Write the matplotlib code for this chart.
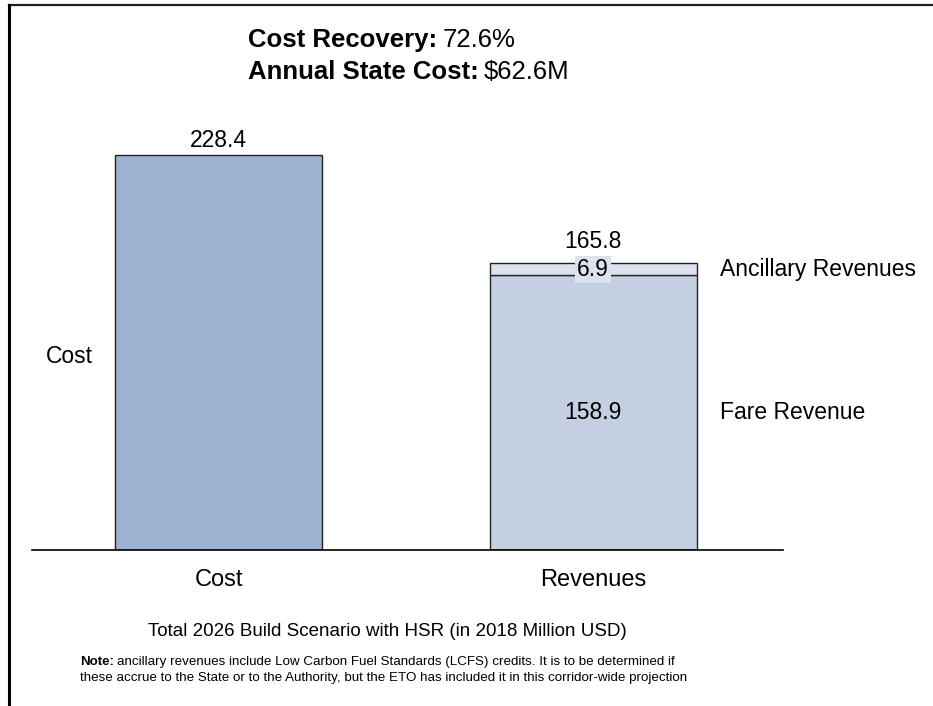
import matplotlib.pyplot as plt
from matplotlib.lines import Line2D

plt.rcParams['font.family'] = ['Liberation Sans', 'DejaVu Sans']

categories = ['Cost', 'Revenues']
cost_total = 228.4
fare_revenue = 158.9
ancillary_revenue = 6.9
revenue_total = 165.8
cost_recovery = '72.6%'
state_cost = '$62.6M'

fig = plt.figure(figsize=(9.33, 7.06), dpi=100)
ax = fig.add_axes([32 / 933, 156 / 706, 751 / 933, 449.5 / 706])

w = 0.553
ax.bar(0, cost_total, width=w, color='#9db2d0', edgecolor='#222222', linewidth=1)
ax.bar(1, fare_revenue, width=w, color='#c4cfe1', edgecolor='#222222', linewidth=1)
ax.bar(1, ancillary_revenue, bottom=fare_revenue, width=w, color='#dde3ee',
       edgecolor='#222222', linewidth=1)

ax.set_xlim(-0.498, 1.507)
ax.set_ylim(0, 260)

fs = 16.5
# value labels
ax.text(0, cost_total + 2, f'{cost_total}', ha='center', va='bottom', fontsize=fs)
ax.text(1, revenue_total + 6, f'{revenue_total}', ha='center', va='bottom', fontsize=fs)
ax.text(1, fare_revenue + ancillary_revenue / 2, f'{ancillary_revenue}', ha='center',
        va='center', fontsize=fs,
        bbox=dict(boxstyle='square,pad=0.1', facecolor='#dde3ee', edgecolor='none'))
ax.text(1, fare_revenue / 2, f'{fare_revenue}', ha='center', va='center', fontsize=fs)

# series labels
ax.text(1.34, fare_revenue + ancillary_revenue / 2, 'Ancillary Revenues', ha='left',
        va='center', fontsize=fs)
ax.text(1.34, fare_revenue / 2, 'Fare Revenue', ha='left', va='center', fontsize=fs)
ax.text(-0.46, cost_total / 2 - 2, 'Cost', ha='left', va='center', fontsize=fs)

ax.set_xticks([0, 1])
ax.set_xticklabels(categories, fontsize=17)
ax.tick_params(axis='x', length=0, pad=14)
ax.set_yticks([])
for s in ['top', 'right', 'left']:
    ax.spines[s].set_visible(False)
ax.spines['bottom'].set_linewidth(1.2)

# headline: bold caption followed by its value
fig.canvas.draw()
renderer = fig.canvas.get_renderer()
for ypix, caption, value in [(40, 'Cost Recovery:', cost_recovery),
                             (72, 'Annual State Cost:', state_cost)]:
    t = fig.text(248 / 933, 1 - ypix / 706, caption, fontsize=18.5, fontweight='bold',
                 va='center', ha='left')
    bb = t.get_window_extent(renderer)
    fig.text((bb.x1 + 5) / 933, 1 - ypix / 706, value, fontsize=18.5,
             va='center', ha='left')

fig.text(387 / 933, 1 - 632 / 706, 'Total 2026 Build Scenario with HSR (in 2018 Million USD)',
         ha='center', va='center', fontsize=13.5)

note = fig.text(80 / 933, 1 - 662 / 706, 'Note:', fontsize=9.6, fontweight='bold',
                ha='left', va='center')
nb = note.get_window_extent(renderer)
fig.text((nb.x1 + 3) / 933, 1 - 662 / 706,
         'ancillary revenues include Low Carbon Fuel Standards (LCFS) credits. '
         'It is to be determined if',
         fontsize=9.6, ha='left', va='center')
fig.text(80 / 933, 1 - 678 / 706,
         'these accrue to the State or to the Authority, but the ETO has included it '
         'in this corridor-wide projection',
         fontsize=9.6, ha='left', va='center')

# frame lines along the top and left edges
fig.add_artist(Line2D([9 / 933, 1], [1 - 5 / 706, 1 - 5 / 706], color='#222222',
                      linewidth=1.6, transform=fig.transFigure))
fig.add_artist(Line2D([9 / 933, 9 / 933], [0, 1 - 5 / 706], color='black',
                      linewidth=2.2, transform=fig.transFigure))

fig.savefig('out.png', dpi=100)
